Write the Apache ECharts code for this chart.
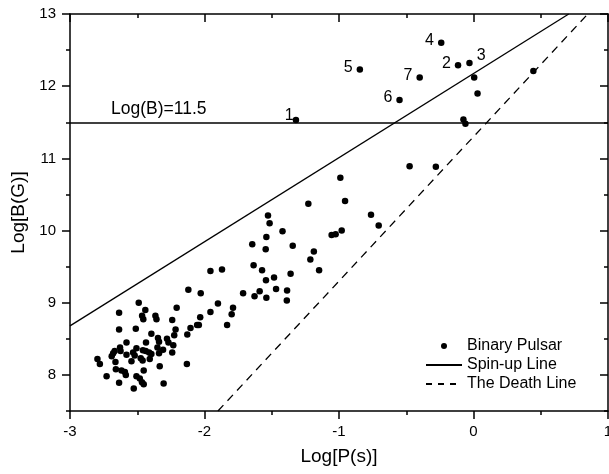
<!DOCTYPE html>
<html>
<head>
<meta charset="utf-8">
<script src="https://cdn.jsdelivr.net/npm/echarts@6/dist/echarts.min.js"></script>
<style>
html,body{margin:0;padding:0;background:#fff;}
#chart{width:609px;height:474px;}
</style>
</head>
<body>
<div id="chart"></div>
<script>
// ---- data ----
var pulsarLogP = [
  -1.32, -0.845, -0.24, -0.115, -0.03, -0.40, -0.55,
  0.005, 0.03, -0.075, -0.06, 0.445, -0.475, -0.28, -0.99, -0.955, -0.762, -0.705,
  -0.98, -1.025, -1.055, -1.228, -1.528, -1.516, -1.42, -1.54, -1.645, -1.545, -1.344,
  -1.187, -1.213, -1.148, -1.956, -1.87, -1.635, -1.572, -1.36, -1.483, -1.543,
  -2.12, -2.028, -1.713, -1.59, -1.628, -1.468, -1.386, -1.54, -1.388, -1.90, -1.788,
  -1.956, -1.798, -1.832, -2.032, -2.042, -2.055, -2.104, -2.128, -2.131, -2.207,
  -2.24, -2.215, -2.225, -2.232, -2.24, -2.304,
  -2.489, -2.44, -2.635, -2.464, -2.455, -2.365, -2.357, -2.635, -2.511, -2.395,
  -2.58, -2.435, -2.346, -2.338, -2.279, -2.268, -2.628, -2.624, -2.506, -2.35,
  -2.308, -2.338, -2.458, -2.437, -2.412, -2.395, -2.531, -2.519, -2.58, -2.474,
  -2.46, -2.407, -2.679, -2.668, -2.69, -2.543, -2.662, -2.796, -2.778, -2.659,
  -2.617, -2.592, -2.585, -2.452, -2.333, -2.728, -2.506, -2.481, -2.635, -2.465,
  -2.452, -2.526
];
var pulsarLogB = [
  11.53, 12.23, 12.60, 12.29, 12.32, 12.12, 11.81,
  12.12, 11.90, 11.54, 11.48, 12.21, 10.89, 10.885, 10.73, 10.41, 10.22, 10.07,
  10.00, 9.95, 9.94, 10.37, 10.21, 10.10, 9.99, 9.91, 9.81, 9.74, 9.79,
  9.71, 9.60, 9.45, 9.44, 9.46, 9.52, 9.45, 9.40, 9.35, 9.31,
  9.18, 9.13, 9.13, 9.16, 9.09, 9.19, 9.17, 9.07, 9.03, 8.99, 8.93,
  8.87, 8.84, 8.69, 8.80, 8.69, 8.69, 8.65, 8.56, 8.15, 8.93,
  8.76, 8.63, 8.55, 8.41, 8.31, 7.88,
  9.00, 8.90, 8.86, 8.82, 8.77, 8.82, 8.77, 8.63, 8.64, 8.57,
  8.45, 8.45, 8.51, 8.46, 8.50, 8.45, 8.38, 8.33, 8.37, 8.38,
  8.35, 8.30, 8.34, 8.33, 8.31, 8.29, 8.31, 8.27, 8.28, 8.23,
  8.20, 8.22, 8.30, 8.33, 8.26, 8.19, 8.18, 8.22, 8.15, 8.08,
  8.06, 8.04, 8.00, 8.06, 8.12, 7.98, 7.98, 7.95, 7.89, 7.90,
  7.87, 7.81
];
// labels attached to the first seven pulsars
var pulsarTags = ['1', '5', '4', '2', '3', '7', '6'];

var spinUpLogP = [-3, 0.708];
var spinUpLogB = [8.68, 13];
var deathLogP = [-1.9, 0.85];
var deathLogB = [7.5, 13];
var limitLogB = 11.5;
var limitText = 'Log(B)=11.5';

var xTicks = [-3, -2, -1, 0, 1];
var yTicks = [8, 9, 10, 11, 12, 13];

// ---- chart ----
var FONT = '"Liberation Sans", Arial, sans-serif';
var chart = echarts.init(document.getElementById('chart'), null, {renderer: 'canvas'});

var scatterData = pulsarLogP.map(function (p, i) {
  var item = {value: [p, pulsarLogB[i]]};
  var tag = pulsarTags[i];
  if (tag) {
    var lab = {show: true, formatter: tag, position: 'left', distance: 4, offset: [0, -2],
      color: '#000', fontSize: 16, fontFamily: FONT};
    if (tag === '1') { lab.offset = [5, -5]; }
    if (tag === '3') { lab.position = 'right'; lab.offset = [0, -7]; }
    item.label = lab;
  }
  return item;
});

function pairs(xs, ys) { return xs.map(function (x, i) { return [x, ys[i]]; }); }

var axisLineStyle = {color: '#000', width: 1.5};
var tickLine = {color: '#000', width: 1.5};
var yMin = 7.5, yMax = 13;
var noSymbol = {color: 'rgba(0,0,0,0)', borderColor: 'rgba(0,0,0,0)', borderWidth: 0};

var option = {
  animation: false,
  backgroundColor: '#fff',
  grid: {left: 70, right: 1, top: 14, bottom: 63, containLabel: false, outerBoundsMode: 'none'},
  textStyle: {fontFamily: FONT},
  legend: {
    orient: 'vertical', left: 425, top: 338, padding: 0,
    itemWidth: 36, itemHeight: 6, itemGap: 3,
    textStyle: {fontSize: 16, color: '#000', fontFamily: FONT},
    data: [
      {name: 'Binary Pulsar', icon: 'circle', itemStyle: {color: '#000', opacity: 1}},
      {name: 'Spin-up Line', itemStyle: noSymbol},
      {name: 'The Death Line', itemStyle: noSymbol, lineStyle: {type: [6, 6]}}
    ]
  },
  xAxis: [
    {
      type: 'value', position: 'bottom', min: -3, max: 1, interval: 1,
      name: 'Log[P(s)]', nameLocation: 'middle', nameGap: 36,
      nameTextStyle: {fontSize: 19, color: '#000', fontFamily: FONT},
      axisLine: {show: true, onZero: false, lineStyle: axisLineStyle},
      axisTick: {show: true, length: 8, lineStyle: tickLine},
      minorTick: {show: true, splitNumber: 2, length: 4, lineStyle: tickLine},
      axisLabel: {show: true, margin: 13, fontSize: 15, color: '#000', fontFamily: FONT,
        showMinLabel: true, showMaxLabel: true, hideOverlap: false, customValues: xTicks},
      splitLine: {show: false}
    },
    {
      type: 'value', position: 'top', min: -3, max: 1, interval: 1,
      axisLine: {show: true, onZero: false, lineStyle: axisLineStyle},
      axisTick: {show: true, inside: true, length: 8, lineStyle: tickLine},
      minorTick: {show: true, splitNumber: 2, length: 4, lineStyle: tickLine},
      axisLabel: {show: false},
      splitLine: {show: false}
    }
  ],
  yAxis: [
    {
      type: 'value', position: 'left', min: yMin, max: yMax, interval: 0.5,
      name: 'Log[B(G)]', nameLocation: 'middle', nameGap: 40, nameRotate: 90,
      nameTextStyle: {fontSize: 19, color: '#000', fontFamily: FONT},
      axisLine: {show: true, onZero: false, lineStyle: axisLineStyle},
      axisTick: {show: true, length: 8, customValues: yTicks, lineStyle: tickLine},
      axisLabel: {show: true, margin: 14, fontSize: 15, color: '#000', fontFamily: FONT, customValues: yTicks},
      splitLine: {show: false}
    },
    {
      type: 'value', position: 'left', min: yMin, max: yMax, interval: 0.5,
      axisLine: {show: false, onZero: false},
      axisTick: {show: true, length: 4, lineStyle: tickLine},
      axisLabel: {show: false},
      splitLine: {show: false}
    },
    {
      type: 'value', position: 'right', min: yMin, max: yMax, interval: 0.5,
      axisLine: {show: true, onZero: false, lineStyle: axisLineStyle},
      axisTick: {show: true, inside: true, length: 8, customValues: yTicks, lineStyle: tickLine},
      axisLabel: {show: false},
      splitLine: {show: false}
    },
    {
      type: 'value', position: 'right', min: yMin, max: yMax, interval: 0.5,
      axisLine: {show: false, onZero: false},
      axisTick: {show: true, inside: true, length: 4, lineStyle: tickLine},
      axisLabel: {show: false},
      splitLine: {show: false}
    }
  ],
  series: [
    {
      name: 'Binary Pulsar', type: 'scatter', xAxisIndex: 0, yAxisIndex: 0,
      symbol: 'circle', symbolSize: 6.5,
      itemStyle: {color: '#000', opacity: 1},
      data: scatterData, z: 5
    },
    {
      name: 'Spin-up Line', type: 'line', xAxisIndex: 0, yAxisIndex: 0,
      symbol: 'none', silent: true,
      lineStyle: {color: '#000', width: 1.3, type: 'solid'},
      itemStyle: {color: '#000'},
      data: pairs(spinUpLogP, spinUpLogB)
    },
    {
      name: 'The Death Line', type: 'line', xAxisIndex: 0, yAxisIndex: 0,
      symbol: 'none', silent: true,
      lineStyle: {color: '#000', width: 1.3, type: [8, 6]},
      itemStyle: {color: '#000'},
      data: pairs(deathLogP, deathLogB)
    },
    {
      name: 'limit', type: 'line', xAxisIndex: 0, yAxisIndex: 0,
      data: [], silent: true,
      markLine: {
        silent: true, symbol: 'none', animation: false,
        lineStyle: {color: '#000', width: 1.5, type: 'solid'},
        label: {show: true, position: 'insideStartTop', distance: [41, 4],
          formatter: limitText, color: '#000', fontSize: 17.5, fontFamily: FONT},
        data: [{yAxis: limitLogB}]
      }
    }
  ]
};
chart.setOption(option);
</script>
</body>
</html>
